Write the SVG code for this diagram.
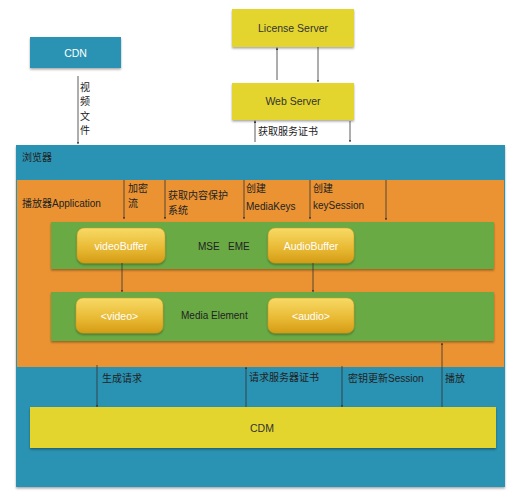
<svg xmlns="http://www.w3.org/2000/svg" width="514" height="500" viewBox="0 0 514 500">
<defs>
<style>
.t{font-family:"Liberation Sans","Noto Sans CJK SC",Arial,sans-serif;font-size:10px;fill:#222}
.tc{font-family:"Liberation Sans","Noto Sans CJK SC",Arial,sans-serif;font-size:10.5px;text-anchor:middle}
.tw{font-family:"Liberation Sans","Noto Sans CJK SC",Arial,sans-serif;font-size:10.5px;text-anchor:middle;fill:#fff}
.blue{fill:#2b92b3}
.yel{fill:#e3d52f}
.org{fill:#eb9332}
.grn{fill:#6aaa45}
.btn{fill:url(#gold);stroke:#c99a1a;stroke-width:0.5}
.c{stroke:#333;stroke-width:0.8;fill:none;marker-end:url(#ah)}
</style>
<linearGradient id="gold" x1="0" y1="0" x2="0" y2="1">
<stop offset="0" stop-color="#f7da66"/>
<stop offset="0.6" stop-color="#e8b832"/>
<stop offset="1" stop-color="#d49c16"/>
</linearGradient>
<filter id="sh" x="-5%" y="-10%" width="110%" height="130%">
<feDropShadow dx="0" dy="1.5" stdDeviation="1" flood-color="#000" flood-opacity="0.35"/>
</filter>
<marker id="ah" viewBox="0 0 6 6" refX="6" refY="3" markerWidth="3" markerHeight="3" orient="auto">
<path d="M0,0 L6,3 L0,6 z" fill="#333"/>
</marker>
</defs>

<g id="browser">
<rect class="blue" x="16" y="145" width="489" height="342" filter="url(#sh)"/>
<text class="t" x="22" y="161">浏览器</text>
</g>
<g id="player">
<rect class="org" x="17" y="180" width="487" height="187"/>
<text class="t" x="22" y="207">播放器Application</text>
</g>
<g id="mse">
<rect class="grn" x="51" y="222" width="443" height="47" filter="url(#sh)"/>
<text class="t" x="198" y="250">MSE</text>
<text class="t" x="228" y="250">EME</text>
</g>
<g id="videoBuffer">
<rect class="btn" x="77" y="228" width="88" height="35" rx="7" filter="url(#sh)"/>
<text class="tw" x="121" y="249.5">videoBuffer</text>
</g>
<g id="audioBuffer">
<rect class="btn" x="268" y="228" width="86" height="35" rx="7" filter="url(#sh)"/>
<text class="tw" x="311" y="249.5">AudioBuffer</text>
</g>
<g id="mediaElement">
<rect class="grn" x="51" y="292" width="443" height="49" filter="url(#sh)"/>
<text class="t" x="181" y="319">Media Element</text>
</g>
<g id="video">
<rect class="btn" x="76" y="298" width="87" height="35" rx="7" filter="url(#sh)"/>
<text class="tw" x="119.5" y="319.5">&lt;video&gt;</text>
</g>
<g id="audio">
<rect class="btn" x="268" y="298" width="86" height="35" rx="7" filter="url(#sh)"/>
<text class="tw" x="311" y="319.5">&lt;audio&gt;</text>
</g>
<g id="cdm">
<rect class="yel" x="30" y="407" width="466" height="41" filter="url(#sh)"/>
<text class="tc" x="262" y="432" fill="#333">CDM</text>
</g>
<g id="cdn">
<rect class="blue" x="30" y="37" width="91" height="31" filter="url(#sh)"/>
<text class="tw" x="75.5" y="56.5">CDN</text>
</g>
<g id="licenseServer">
<rect class="yel" x="232" y="9" width="122" height="38" filter="url(#sh)"/>
<text class="tc" x="293" y="31.5" fill="#333">License Server</text>
</g>
<g id="webServer">
<rect class="yel" x="232" y="83" width="122" height="37" filter="url(#sh)"/>
<text class="tc" x="293" y="105" fill="#333">Web Server</text>
</g>

<g id="connectors">
<line class="c" x1="78" y1="76" x2="78" y2="144"/>
<line class="c" x1="277" y1="80" x2="277" y2="47.5"/>
<line class="c" x1="318" y1="47" x2="318" y2="82"/>
<line class="c" x1="255" y1="142" x2="255" y2="120.5"/>
<line class="c" x1="350" y1="121" x2="350" y2="142"/>
<line class="c" x1="124" y1="180" x2="124" y2="219"/>
<line class="c" x1="165" y1="180" x2="165" y2="219"/>
<line class="c" x1="244" y1="180" x2="244" y2="219"/>
<line class="c" x1="310" y1="180" x2="310" y2="219"/>
<line class="c" x1="386" y1="180" x2="386" y2="220"/>
<line class="c" x1="122" y1="263" x2="122" y2="292"/>
<line class="c" x1="313" y1="263" x2="313" y2="292"/>
<line class="c" x1="97" y1="365" x2="97" y2="407"/>
<line class="c" x1="246" y1="407" x2="246" y2="367"/>
<line class="c" x1="342" y1="366" x2="342" y2="407"/>
<line class="c" x1="442" y1="407" x2="442" y2="343"/>
</g>

<g id="labels">
<text class="t" x="80" y="91">视</text>
<text class="t" x="80" y="105">频</text>
<text class="t" x="80" y="120">文</text>
<text class="t" x="80" y="134">件</text>
<text class="t" x="258" y="135">获取服务证书</text>
<text class="t" x="128" y="192">加密</text>
<text class="t" x="128" y="207">流</text>
<text class="t" x="168" y="199">获取内容保护</text>
<text class="t" x="168" y="214">系统</text>
<text class="t" x="246" y="192">创建</text>
<text class="t" x="246" y="210">MediaKeys</text>
<text class="t" x="313" y="192">创建</text>
<text class="t" x="313" y="209">keySession</text>
<text class="t" x="102" y="382">生成请求</text>
<text class="t" x="249" y="381">请求服务器证书</text>
<text class="t" x="348" y="382">密钥更新Session</text>
<text class="t" x="445" y="382">播放</text>
</g>
</svg>
